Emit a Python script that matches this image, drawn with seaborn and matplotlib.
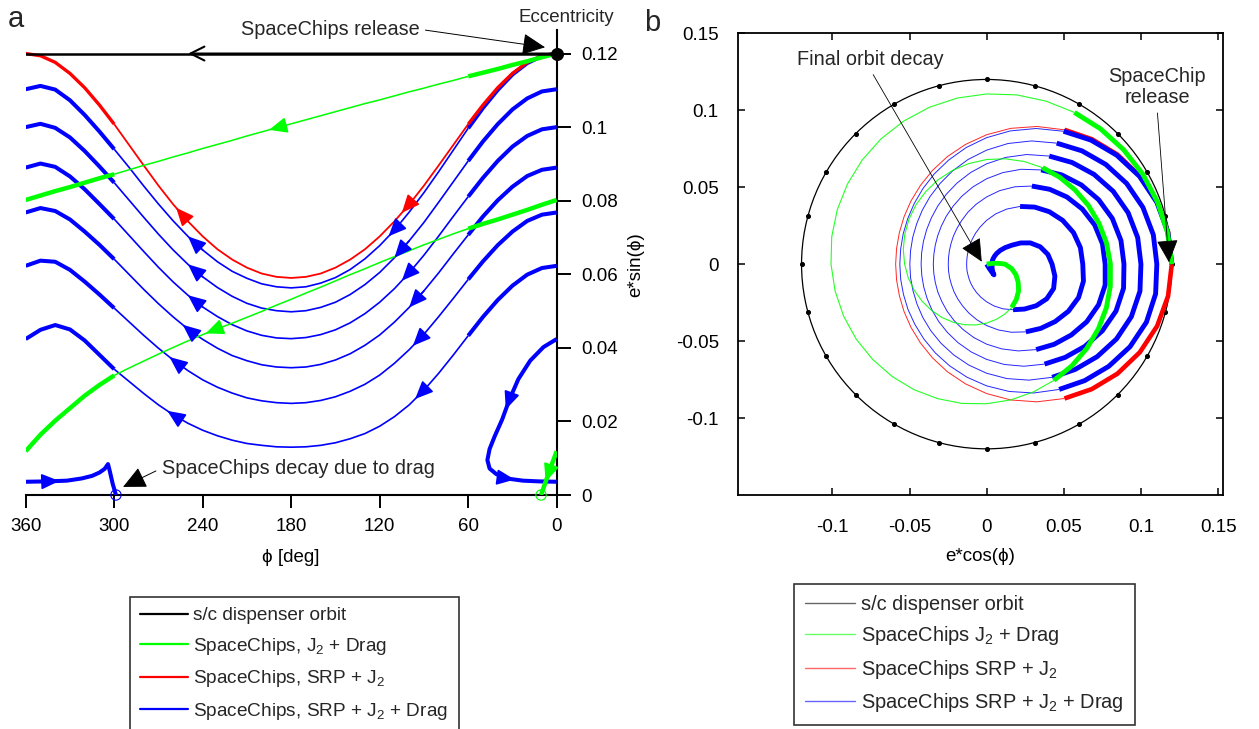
import numpy as np
import matplotlib
matplotlib.use("Agg")
import matplotlib.pyplot as plt
from matplotlib.lines import Line2D
from matplotlib.patches import Ellipse
import seaborn as sns

# ---------------------------------------------------------------- data
# eccentricity e versus angle phi [deg]; one list per revolution (10 deg steps)
PHI_GRID = list(range(0, 361, 10))

E_RED = [0.1200, 0.1194, 0.1176, 0.1146, 0.1107, 0.1060, 0.1008, 0.0952, 0.0896, 0.0841,
         0.0790, 0.0744, 0.0703, 0.0668, 0.0640, 0.0618, 0.0602, 0.0593, 0.0590,
         0.0593, 0.0602, 0.0618, 0.0640, 0.0668, 0.0703, 0.0744, 0.0790, 0.0841,
         0.0896, 0.0952, 0.1008, 0.1060, 0.1107, 0.1146, 0.1176, 0.1194, 0.1200]

E_BLUE_1 = [0.1200, 0.1193, 0.1174, 0.1143, 0.1101, 0.1052, 0.0997, 0.0938, 0.0879, 0.0822,
            0.0769, 0.0720, 0.0678, 0.0642, 0.0613, 0.0591, 0.0576, 0.0566, 0.0563,
            0.0566, 0.0574, 0.0589, 0.0608, 0.0634, 0.0666, 0.0703, 0.0745, 0.0791,
            0.0840, 0.0891, 0.0940, 0.0988, 0.1033, 0.1073, 0.1102, 0.1112, 0.1103]
E_BLUE_2 = [0.1103, 0.1097, 0.1078, 0.1048, 0.1008, 0.0961, 0.0908, 0.0852, 0.0796, 0.0741,
            0.0691, 0.0645, 0.0605, 0.0572, 0.0545, 0.0524, 0.0510, 0.0501, 0.0498,
            0.0501, 0.0508, 0.0521, 0.0540, 0.0564, 0.0593, 0.0627, 0.0666, 0.0709,
            0.0755, 0.0802, 0.0849, 0.0893, 0.0935, 0.0972, 0.0998, 0.1009, 0.1000]
E_BLUE_3 = [0.1000, 0.0994, 0.0976, 0.0947, 0.0908, 0.0862, 0.0811, 0.0758, 0.0704, 0.0652,
            0.0604, 0.0561, 0.0524, 0.0493, 0.0468, 0.0449, 0.0436, 0.0428, 0.0425,
            0.0427, 0.0434, 0.0446, 0.0463, 0.0485, 0.0511, 0.0543, 0.0579, 0.0619,
            0.0662, 0.0706, 0.0750, 0.0791, 0.0831, 0.0866, 0.0892, 0.0901, 0.0890]
E_BLUE_4 = [0.0890, 0.0884, 0.0867, 0.0838, 0.0801, 0.0757, 0.0707, 0.0656, 0.0604, 0.0555,
            0.0510, 0.0470, 0.0435, 0.0407, 0.0384, 0.0367, 0.0355, 0.0348, 0.0346,
            0.0348, 0.0354, 0.0365, 0.0379, 0.0399, 0.0423, 0.0451, 0.0484, 0.0520,
            0.0559, 0.0600, 0.0641, 0.0680, 0.0716, 0.0749, 0.0772, 0.0780, 0.0768]
E_BLUE_5 = [0.0768, 0.0762, 0.0745, 0.0716, 0.0679, 0.0635, 0.0586, 0.0535, 0.0485, 0.0437,
            0.0395, 0.0358, 0.0326, 0.0301, 0.0282, 0.0267, 0.0257, 0.0251, 0.0249,
            0.0251, 0.0256, 0.0264, 0.0277, 0.0293, 0.0313, 0.0338, 0.0367, 0.0399,
            0.0434, 0.0471, 0.0508, 0.0545, 0.0580, 0.0612, 0.0634, 0.0637, 0.0623]
E_BLUE_6 = [0.0623, 0.0617, 0.0599, 0.0569, 0.0530, 0.0484, 0.0433, 0.0381, 0.0331, 0.0285,
            0.0245, 0.0213, 0.0187, 0.0167, 0.0153, 0.0142, 0.0135, 0.0131, 0.0130,
            0.0131, 0.0135, 0.0140, 0.0149, 0.0161, 0.0176, 0.0195, 0.0218, 0.0245,
            0.0276, 0.0309, 0.0342, 0.0381, 0.0420, 0.0450, 0.0462, 0.0449, 0.0424]
PHI_BLUE_7 = [0, 9, 18, 26, 32, 37, 42, 45.5, 47, 45.5, 41, 34, 23, 12, 0]
E_BLUE_7 = [0.0424, 0.0402, 0.0365, 0.0315, 0.0260, 0.0205, 0.0160, 0.0125, 0.0095,
            0.0072, 0.0057, 0.0045, 0.0039, 0.0037, 0.0036]
PHI_BLUE_8 = [360, 345, 332, 322, 315, 310, 306.5, 304.2, 303, 301, 298.8]
E_BLUE_8 = [0.0036, 0.0037, 0.0039, 0.0045, 0.0052, 0.0061, 0.0071, 0.0084,
            0.0065, 0.0030, 0.0]

E_GREEN_1 = [0.1200, 0.1190, 0.1179, 0.1169, 0.1158, 0.1148, 0.1138, 0.1127, 0.1117, 0.1106,
             0.1096, 0.1085, 0.1074, 0.1064, 0.1053, 0.1042, 0.1031, 0.1020, 0.1009,
             0.0998, 0.0987, 0.0976, 0.0964, 0.0953, 0.0942, 0.0930, 0.0919, 0.0907,
             0.0896, 0.0884, 0.0872, 0.0861, 0.0849, 0.0837, 0.0826, 0.0814, 0.0802]
E_GREEN_2 = [0.0802, 0.0789, 0.0775, 0.0762, 0.0749, 0.0737, 0.0724, 0.0710, 0.0695, 0.0680,
             0.0664, 0.0648, 0.0632, 0.0615, 0.0599, 0.0582, 0.0565, 0.0549, 0.0532,
             0.0516, 0.0499, 0.0483, 0.0467, 0.0452, 0.0436, 0.0419, 0.0401, 0.0383,
             0.0364, 0.0345, 0.0325, 0.0299, 0.0270, 0.0236, 0.0202, 0.0164, 0.0119]
PHI_GREEN_3 = [0, 2.5, 5, 7.5, 10.6]
E_GREEN_3 = [0.0119, 0.0092, 0.0065, 0.0036, 0.0]

PHI_DISPENSER = [0, 360]
E_DISPENSER = 0.12
PHI_MARKS = list(range(0, 360, 15))

SUNLIT_EDGE = 62  # thick (sunlit) arc: phi within +/- this angle of 0

X_TICKS_A = [360, 300, 240, 180, 120, 60, 0]
Y_TICKS_A = [0, 0.02, 0.04, 0.06, 0.08, 0.1, 0.12]
TICKS_B = [-0.1, -0.05, 0, 0.05, 0.1, 0.15]

LABELS_A = ["s/c dispenser orbit", "SpaceChips, J$_2$ + Drag",
            "SpaceChips, SRP + J$_2$", "SpaceChips, SRP + J$_2$ + Drag"]
LABELS_B = ["s/c dispenser orbit", "SpaceChips J$_2$ + Drag",
            "SpaceChips SRP + J$_2$", "SpaceChips SRP + J$_2$ + Drag"]

BLACK, GREEN, RED, BLUE = "#000000", "#00FF00", "#FF0000", "#0000FF"

# ---------------------------------------------------------------- style
sns.set_theme(style="white")
plt.rcParams["font.family"] = ["Liberation Sans", "DejaVu Sans"]
plt.rcParams["mathtext.fontset"] = "custom"
plt.rcParams["mathtext.rm"] = "Liberation Sans"
plt.rcParams["mathtext.it"] = "Liberation Sans:italic"
plt.rcParams["axes.unicode_minus"] = False

W, H = 1259, 729
fig = plt.figure(figsize=(W / 100, H / 100), dpi=100)
fig.patch.set_facecolor("white")


def fx(px):
    return px / W


def fy(py):
    return 1 - py / H


def lit(p):
    p = p % 360
    return p <= SUNLIT_EDGE or p >= 360 - SUNLIT_EDGE


def draw_track(ax, x, y, phi, color, lw_lit, lw_dark, z, alpha_dark=1.0):
    x, y, phi = np.asarray(x, float), np.asarray(y, float), np.asarray(phi, float)
    state = [lit(phi[i]) and lit(phi[i + 1]) for i in range(len(phi) - 1)]
    start = 0
    for i in range(1, len(state) + 1):
        if i == len(state) or state[i] != state[start]:
            sl = slice(start, i + 1)
            thick = state[start]
            sns.lineplot(x=x[sl], y=y[sl], sort=False, estimator=None, color=color,
                         linewidth=lw_lit if thick else lw_dark,
                         alpha=1.0 if thick else alpha_dark,
                         zorder=z + (0.5 if thick else 0), ax=ax, legend=False,
                         solid_capstyle="butt", solid_joinstyle="round")
            start = i


def arrow_on(ax, phi, e, i, frac, color, style="-|>,head_length=0.55,head_width=0.24",
             lw=1.2, scale=20):
    x0, y0 = phi[i], e[i]
    x1 = phi[i] + frac * (phi[i + 1] - phi[i])
    y1 = e[i] + frac * (e[i + 1] - e[i])
    ax.annotate("", xy=(x1, y1), xytext=(x0, y0),
                arrowprops=dict(arrowstyle=style, color=color, lw=lw,
                                mutation_scale=scale, shrinkA=0, shrinkB=0),
                zorder=7, annotation_clip=False)


def polar_xy(phi, e):
    r = np.radians(np.asarray(phi, float))
    e = np.asarray(e, float)
    return e * np.cos(r), e * np.sin(r)


BLUE_REVS = [E_BLUE_1, E_BLUE_2, E_BLUE_3, E_BLUE_4, E_BLUE_5, E_BLUE_6]

# ---------------------------------------------------------------- panel a
axa = fig.add_axes([fx(25.7), fy(495), fx(531), 465 / H])
axa.set_facecolor("white")

for ev in BLUE_REVS:
    draw_track(axa, PHI_GRID, ev, PHI_GRID, BLUE, 2.9, 1.2, 3)
draw_track(axa, PHI_BLUE_7, E_BLUE_7, PHI_BLUE_7, BLUE, 2.9, 1.2, 3)
draw_track(axa, PHI_BLUE_8, E_BLUE_8, PHI_BLUE_8, BLUE, 2.9, 1.2, 3)
draw_track(axa, PHI_GRID, E_RED, PHI_GRID, RED, 2.4, 1.3, 4)
for ph, ev in [(PHI_GRID, E_GREEN_1), (PHI_GRID, E_GREEN_2), (PHI_GREEN_3, E_GREEN_3)]:
    draw_track(axa, ph, ev, ph, GREEN, 3.2, 1.1, 5)
sns.lineplot(x=PHI_DISPENSER, y=[E_DISPENSER] * 2, color=BLACK, linewidth=1.8,
             zorder=6, ax=axa, legend=False)

# direction arrows
arrow_on(axa, PHI_GRID, E_RED, 10, 0.5, RED)
arrow_on(axa, PHI_GRID, E_RED, 25, 0.8, RED)
right_arrows = [(11, 0.4), (10, 1.0), (10, 0.5), (9, 1.0), (9, 0.75), (9, 0.6)]
left_arrows = [(24, 1.0), (24, 1.0), (24, 1.0), (25, 0.35), (26, 0.25), (26, 0.4)]
for ev, (ir, fr), (il, fl) in zip(BLUE_REVS, right_arrows, left_arrows):
    arrow_on(axa, PHI_GRID, ev, ir, fr, BLUE)
    arrow_on(axa, PHI_GRID, ev, il, fl, BLUE)
arrow_on(axa, PHI_BLUE_7, E_BLUE_7, 4, 0.5, BLUE)
arrow_on(axa, PHI_BLUE_7, E_BLUE_7, 11, 0.5, BLUE)
arrow_on(axa, PHI_BLUE_8, E_BLUE_8, 1, 0.6, BLUE)
arrow_on(axa, PHI_GRID, E_GREEN_1, 19, 0.5, GREEN)
arrow_on(axa, PHI_GRID, E_GREEN_2, 23, 0.8, GREEN)
arrow_on(axa, PHI_GREEN_3, E_GREEN_3, 2, 1.0, GREEN)
arrow_on(axa, PHI_DISPENSER, [E_DISPENSER] * 2, 0, 0.694, BLACK,
         style="->,head_length=0.5,head_width=0.25", lw=1.5)

# start / end markers
axa.scatter([PHI_DISPENSER[0]], [E_DISPENSER], s=70, color=BLACK, zorder=8, clip_on=False)
axa.scatter([PHI_BLUE_8[-1]], [E_BLUE_8[-1]], s=55, facecolors="none", edgecolors=BLUE,
            linewidths=0.8, zorder=8, clip_on=False)
axa.scatter([PHI_GREEN_3[-1]], [E_GREEN_3[-1]], s=55, facecolors="none", edgecolors=GREEN,
            linewidths=0.8, zorder=8, clip_on=False)

axa.set_xlim(360, 0)
axa.set_ylim(0, 0.1264)
axa.set_xticks(X_TICKS_A)
axa.set_xticklabels([f"{t:g}" for t in X_TICKS_A])
axa.yaxis.tick_right()
axa.set_yticks(Y_TICKS_A)
axa.set_yticklabels([f"{t:g}" for t in Y_TICKS_A])
for side in ("top", "left"):
    axa.spines[side].set_visible(False)
for side in ("bottom", "right"):
    axa.spines[side].set_visible(True)
    axa.spines[side].set_color("black")
    axa.spines[side].set_linewidth(1.5)
axa.tick_params(axis="x", direction="out", length=9.5, width=1.4, pad=7,
                labelsize=13.5, colors="black", bottom=True)
axa.tick_params(axis="y", direction="out", length=10, width=1.4, pad=8,
                labelsize=13.5, colors="black", right=True, left=False)
axa.set_xlabel("ϕ [deg]", fontsize=13.5, color="black")
axa.xaxis.set_label_coords(0.5, (495 - 549) / 465)
axa.set_ylabel("")

axa.annotate("SpaceChips release", xy=(7.9, 0.1217), xytext=(153.7, 0.1266),
             ha="center", va="center", fontsize=14.3, annotation_clip=False,
             arrowprops=dict(arrowstyle="-|>,head_length=0.8,head_width=0.38",
                             color="black", lw=0.7, mutation_scale=18,
                             shrinkA=2, shrinkB=0, relpos=(1.0, 0.5)), zorder=9)
axa.annotate("SpaceChips decay due to drag", xy=(294, 0.0022), xytext=(267.8, 0.0073),
             ha="left", va="center", fontsize=14.3, annotation_clip=False,
             arrowprops=dict(arrowstyle="-|>,head_length=0.8,head_width=0.38",
                             color="black", lw=0.7, mutation_scale=18,
                             shrinkA=2, shrinkB=0, relpos=(0.0, 0.5)), zorder=9)

fig.text(fx(566), fy(17), "Eccentricity", ha="center", va="center", fontsize=13.5)
fig.text(fx(16), fy(19), "a", ha="center", va="center", fontsize=21)

handles_a = [Line2D([], [], color=c, lw=1.6) for c in (BLACK, GREEN, RED, BLUE)]
leg_a = fig.legend(handles_a, LABELS_A, loc="upper left",
                   bbox_to_anchor=(fx(130), fy(596.7)), fontsize=13.7, frameon=True,
                   fancybox=False, edgecolor="black", borderaxespad=0,
                   handlelength=2.5, handletextpad=0.27, borderpad=0.55, labelspacing=0.6)
leg_a.get_frame().set_linewidth(1.2)

# ---------------------------------------------------------------- panel b
axb = fig.add_axes([fx(738.3), fy(495), fx(484.4), 461.7 / H])
axb.set_facecolor("white")

axb.add_patch(Ellipse((0, 0), 2 * E_DISPENSER, 2 * E_DISPENSER, fill=False,
                      edgecolor=BLACK, lw=0.9, zorder=2))
mx, my = polar_xy(PHI_MARKS, [E_DISPENSER] * len(PHI_MARKS))
axb.scatter(mx, my, s=7, color=BLACK, zorder=2)

rx, ry = polar_xy(PHI_GRID, E_RED)
draw_track(axb, rx, ry, PHI_GRID, RED, 3.3, 0.7, 3, alpha_dark=0.85)

phi_blue = PHI_GRID * 6 + PHI_BLUE_7 + PHI_BLUE_8
e_blue = sum(BLUE_REVS, []) + E_BLUE_7 + E_BLUE_8
bx, by = polar_xy(phi_blue, e_blue)
draw_track(axb, bx, by, phi_blue, BLUE, 3.5, 0.7, 4, alpha_dark=0.85)

phi_green = PHI_GRID + PHI_GRID + PHI_GREEN_3
e_green = E_GREEN_1 + E_GREEN_2 + E_GREEN_3
gx, gy = polar_xy(phi_green, e_green)
draw_track(axb, gx, gy, phi_green, GREEN, 3.5, 0.8, 5, alpha_dark=0.85)

axb.set_xlim(-0.161, 0.153)
axb.set_ylim(-0.15, 0.15)
axb.set_xticks(TICKS_B)
axb.set_yticks(TICKS_B)
axb.set_xticklabels([f"{t:g}" for t in TICKS_B])
axb.set_yticklabels([f"{t:g}" for t in TICKS_B])
for side in ("top", "bottom", "left", "right"):
    axb.spines[side].set_visible(True)
    axb.spines[side].set_color("black")
    axb.spines[side].set_linewidth(1.3)
axb.tick_params(direction="in", length=5, width=1.1, labelsize=13.5, colors="black",
                top=True, right=True, bottom=True, left=True)
axb.tick_params(axis="x", pad=17)
axb.tick_params(axis="y", pad=14)
axb.set_xlabel("e*cos(ϕ)", fontsize=13.5, color="black")
axb.set_ylabel("e*sin(ϕ)", fontsize=13.5, color="black")
axb.xaxis.set_label_coords(0.5, (495 - 548) / 461.7)
axb.yaxis.set_label_coords((644 - 738.3) / 484.4, 0.5)

axb.annotate("Final orbit decay", xy=(-0.0032, 0.0016), xytext=(-0.0757, 0.133),
             ha="center", va="center", fontsize=14.3,
             arrowprops=dict(arrowstyle="-|>,head_length=0.8,head_width=0.38",
                             color="black", lw=0.6, mutation_scale=18,
                             shrinkA=2, shrinkB=0, relpos=(0.5, 0.0)), zorder=9)
axb.annotate("SpaceChip\nrelease", xy=(0.1182, 0.0012), xytext=(0.1104, 0.115),
             ha="center", va="center", fontsize=14.3, linespacing=1.1,
             arrowprops=dict(arrowstyle="-|>,head_length=0.8,head_width=0.38",
                             color="black", lw=0.6, mutation_scale=18,
                             shrinkA=2, shrinkB=0, relpos=(0.5, 0.0)), zorder=9)

fig.text(fx(652), fy(23), "b", ha="center", va="center", fontsize=21)

handles_b = [Line2D([], [], color=c, lw=1.0, alpha=0.6) for c in (BLACK, GREEN, RED, BLUE)]
leg_b = fig.legend(handles_b, LABELS_B, loc="upper left",
                   bbox_to_anchor=(fx(794.3), fy(584)), fontsize=14.4, frameon=True,
                   fancybox=False, edgecolor="black", borderaxespad=0,
                   handlelength=2.5, handletextpad=0.3, borderpad=0.55, labelspacing=0.52)
leg_b.get_frame().set_linewidth(1.2)

fig.savefig("out.png", dpi=100, facecolor="white")
